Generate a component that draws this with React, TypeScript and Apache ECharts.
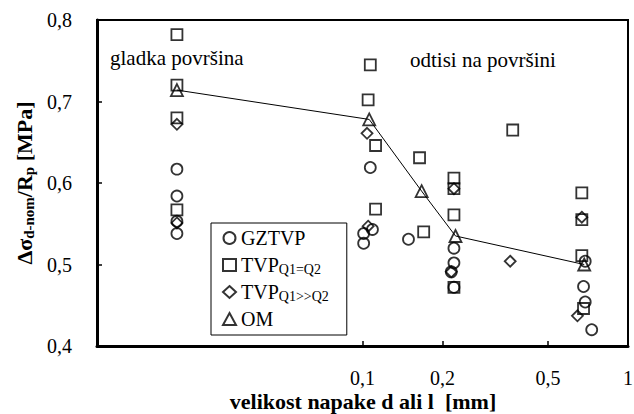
import React, { useEffect, useRef } from "react";
import * as echarts from "echarts";

const FONT = "Liberation Serif";

// x: defect size d or l [mm] (smooth surface plotted at 0.02), y: Δσ/Rp [MPa]
const gztvp: number[][] = [
  [0.02, 0.617], [0.02, 0.584], [0.02, 0.553], [0.02, 0.538],
  [0.107, 0.619], [0.109, 0.543], [0.101, 0.538], [0.101, 0.526], [0.149, 0.531],
  [0.221, 0.52], [0.221, 0.502], [0.216, 0.491], [0.221, 0.472],
  [0.69, 0.504], [0.68, 0.473], [0.69, 0.454], [0.73, 0.42],
];
const tvpEq: number[][] = [
  [0.02, 0.782], [0.02, 0.72], [0.02, 0.68], [0.02, 0.567],
  [0.107, 0.745], [0.105, 0.702], [0.112, 0.646], [0.112, 0.568], [0.164, 0.631], [0.17, 0.54],
  [0.221, 0.606], [0.221, 0.593], [0.221, 0.561], [0.221, 0.472],
  [0.368, 0.665],
  [0.67, 0.588], [0.67, 0.555], [0.67, 0.511], [0.68, 0.446],
];
const tvpGg: number[][] = [
  [0.02, 0.672], [0.02, 0.551], [0.104, 0.661], [0.105, 0.547],
  [0.221, 0.593], [0.216, 0.491], [0.36, 0.504], [0.67, 0.558], [0.645, 0.437],
];
const om: number[][] = [
  [0.02, 0.714], [0.106, 0.678], [0.167, 0.59], [0.224, 0.535], [0.684, 0.5],
];

const xLabelValues = [0.1, 0.2, 0.5, 1];
const xTickValues = [0.1, 0.2, 0.5];
const xTitle = "velikost napake d ali l  [mm]";
const legendNames = ["GZTVP", "TVP Q1=Q2", "TVP Q1>>Q2", "OM"];
const legendLabels: Record<string, string> = {
  "GZTVP": "GZTVP",
  "TVP Q1=Q2": "TVP{sub|Q1=Q2}",
  "TVP Q1>>Q2": "TVP{sub|Q1>>Q2}",
  "OM": "OM",
};

const serif = (size: number, bold = false) => ({
  fontFamily: FONT, fontSize: size, fontWeight: bold ? "bold" : "normal", color: "#000", lineHeight: size + 2,
});

export default function App() {
  const ref = useRef<HTMLDivElement>(null);
  useEffect(() => {
    if (!ref.current) return;
    const chart = echarts.init(ref.current, null, { renderer: "svg" });
    const marker = (name: string, data: number[][], symbol: string, size: number) => ({
      name,
      type: "scatter",
      data,
      symbol,
      symbolSize: size,
      itemStyle: { color: "rgba(255,255,255,0)", borderColor: "#000", borderWidth: 1.8 },
      z: 3,
    });
    chart.setOption({
      animation: false,
      textStyle: { fontFamily: FONT },
      grid: {
        left: 97, right: 6, top: 20, bottom: 68,
        outerBoundsMode: "none",
        containLabel: false,
        show: true, borderColor: "#000", borderWidth: 2,
      },
      legend: {
        data: legendNames,
        orient: "vertical",
        left: 211, top: 223,
        padding: [4, 18, 5, 11],
        itemGap: 5,
        itemWidth: 13, itemHeight: 12,
        borderColor: "#000", borderWidth: 1,
        backgroundColor: "#fff",
        formatter: (n: string) => legendLabels[n] || n,
        textStyle: {
          ...serif(20),
          rich: {
            sub: { ...serif(14), lineHeight: 8, verticalAlign: "bottom" },
          },
        },
      },
      graphic: [
        {
          type: "text", left: 110, top: 46,
          style: { text: "gladka površina", fontFamily: FONT, fontSize: 21, lineHeight: 23, fill: "#000" },
        },
        {
          type: "text", left: 410, top: 48,
          style: { text: "odtisi na površini", fontFamily: FONT, fontSize: 21, lineHeight: 23, fill: "#000" },
        },
        {
          type: "text", x: 363, y: 389,
          style: {
            text: xTitle, fontFamily: FONT, fontSize: 22, fontWeight: "bold", lineHeight: 24,
            fill: "#000", align: "center", verticalAlign: "top",
          },
        },
      ],
      xAxis: {
        type: "log",
        logBase: 10,
        min: 0.01,
        max: 1,
        axisLine: { lineStyle: { color: "#000", width: 3 } },
        axisTick: { inside: true, length: 5, lineStyle: { color: "#000", width: 1.5 }, customValues: xTickValues },
        axisLabel: {
          customValues: xLabelValues,
          margin: 21,
          ...serif(20),
          formatter: (v: number) => String(v).replace(".", ","),
        },
        splitLine: { show: false },
        minorTick: { show: false },
      },
      yAxis: {
        type: "value",
        min: 0.4,
        max: 0.8,
        interval: 0.1,
        name: "Δσ{sub|d-nom}/R{sub|p} [MPa]",
        nameLocation: "middle",
        nameGap: 52,
        nameRotate: 90,
        nameTextStyle: {
          ...serif(22, true),
          rich: {
            sub: { ...serif(15, true), lineHeight: 8, verticalAlign: "bottom" },
          },
        },
        axisLine: { show: true, lineStyle: { color: "#000", width: 3 } },
        axisTick: { show: true, inside: true, length: 5, lineStyle: { color: "#000", width: 1.5 } },
        axisLabel: {
          margin: 25,
          ...serif(20),
          formatter: (v: number) => v.toFixed(1).replace(".", ","),
        },
        splitLine: { show: false },
      },
      series: [
        {
          name: "trend",
          type: "line",
          data: om,
          symbol: "none",
          lineStyle: { color: "#000", width: 1 },
          z: 2,
          silent: true,
        },
        marker("GZTVP", gztvp, "circle", 11),
        marker("TVP Q1=Q2", tvpEq, "rect", 11),
        marker("TVP Q1>>Q2", tvpGg, "diamond", 11),
        marker("OM", om, "triangle", 12),
      ],
    });
    return () => chart.dispose();
  }, []);
  return (
    <div
      ref={ref}
      style={{ position: "fixed", left: 0, top: 0, width: 634, height: 414, background: "#fff" }}
    />
  );
}
